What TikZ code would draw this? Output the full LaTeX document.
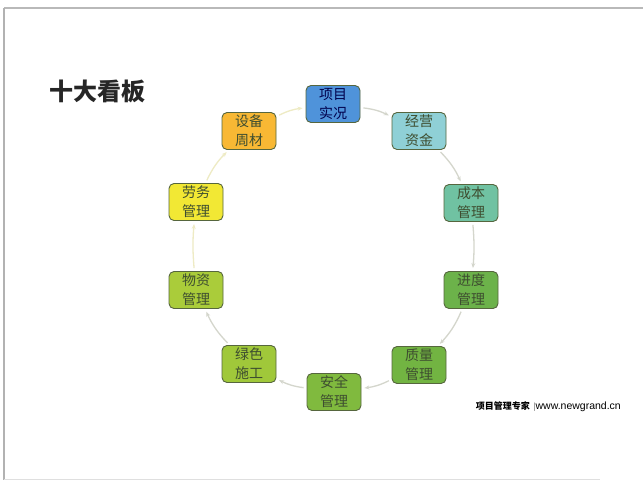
\documentclass[tikz,border=0pt]{standalone}
\usepackage{fontspec}
\newfontfamily\cjk{Noto Sans CJK SC}
\setsansfont{Liberation Sans}
\usetikzlibrary{arrows.meta}
\definecolor{cblue}{HTML}{4F93DA}
\definecolor{ccyan}{HTML}{8FD0D6}
\definecolor{cteal}{HTML}{70C2A2}
\definecolor{cgreenA}{HTML}{6CB24A}
\definecolor{cgreenB}{HTML}{72B442}
\definecolor{cgreenC}{HTML}{80BA3E}
\definecolor{cyg}{HTML}{A0C83A}
\definecolor{cyg2}{HTML}{AACC3A}
\definecolor{cyellow}{HTML}{F2E834}
\definecolor{corange}{HTML}{F8B834}
\definecolor{bordc}{HTML}{56663E}
\definecolor{txtc}{HTML}{3E4E30}
\definecolor{linkc}{HTML}{D4D6CC}
\definecolor{linky}{HTML}{EEEBC4}
\begin{document}
\begin{tikzpicture}[x=1pt,y=-1pt,
  board/.style={draw=bordc,line width=0.9pt,rounded corners=5pt,minimum width=54pt,minimum height=37pt,inner sep=0pt,align=center,font=\cjk\fontsize{14}{19}\selectfont,text=txtc},
  link/.style={draw=linkc,line width=1.3pt,-{Stealth[length=5pt,width=4pt]},shorten >=3pt,shorten <=3pt},
  linkY/.style={link,draw=linky}]
\useasboundingbox (0,0) rectangle (643,483);
\fill[white] (0,0) rectangle (643,483);
% frame
\draw[gray!55,line width=1.2pt] (4,8) -- (643,8);
\draw[gray!60,line width=1.4pt] (4,8) -- (4,480);
\draw[gray!25,line width=1pt] (4,479) -- (600,479);
% title
\node[anchor=west,font=\cjk\fontsize{24}{26}\selectfont\bfseries,text=black!85] (title) at (46,91) {十大看板};
% nodes
\node[board,fill=cblue,text=black!70!blue] (n1) at (333,104) {项目\\实况};
\node[board,fill=ccyan] (n2) at (419,131) {经营\\资金};
\node[board,fill=cteal] (n3) at (471,203) {成本\\管理};
\node[board,fill=cgreenA] (n4) at (471,290) {进度\\管理};
\node[board,fill=cgreenB] (n5) at (419,365) {质量\\管理};
\node[board,fill=cgreenC] (n6) at (334,392) {安全\\管理};
\node[board,fill=cyg] (n7) at (249,364) {绿色\\施工};
\node[board,fill=cyg2] (n8) at (196,290) {物资\\管理};
\node[board,fill=cyellow] (n9) at (196,202) {劳务\\管理};
\node[board,fill=corange] (n10) at (249,131) {设备\\周材};
% links
\draw[link] (n1) to[bend left=10] (n2);
\draw[link] (n2) to[bend left=10] (n3);
\draw[link] (n3) to[bend left=5] (n4);
\draw[link] (n4) to[bend left=10] (n5);
\draw[link] (n5) to[bend left=10] (n6);
\draw[link] (n6) to[bend left=10] (n7);
\draw[link] (n7) to[bend left=10] (n8);
\draw[linkY] (n8) to[bend left=5] (n9);
\draw[linkY] (n9) to[bend left=10] (n10);
\draw[linkY] (n10) to[bend left=10] (n1);
% footer
\node[anchor=east,inner sep=0pt] (footer) at (621,407) {{\cjk\fontsize{9}{10}\selectfont\bfseries 项目管理专家} {\sffamily\fontsize{9}{10}\selectfont\color{black!50}|}{\sffamily\fontsize{10.5}{10}\selectfont www.newgrand.cn}};
\end{tikzpicture}
\end{document}
